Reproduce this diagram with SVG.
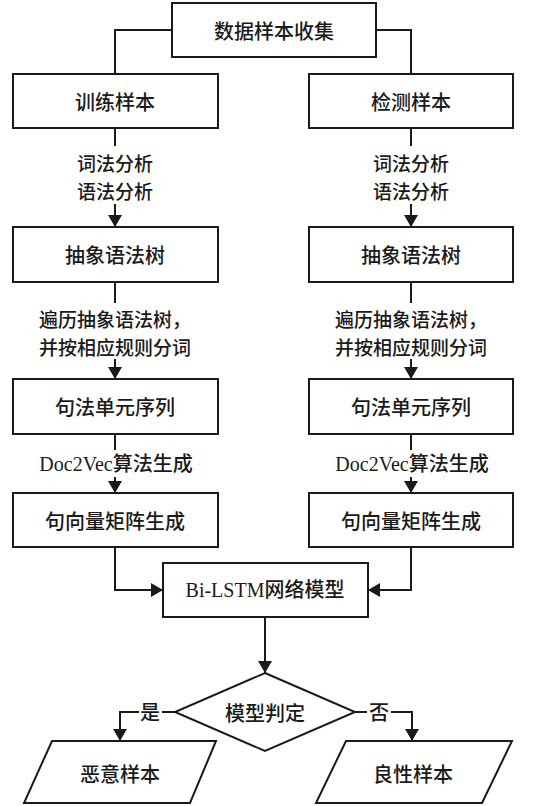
<svg xmlns="http://www.w3.org/2000/svg" width="540" height="806" viewBox="0 0 540 806">
<defs>
<style>
.box{fill:#fff;stroke:#1a1a1a;stroke-width:2}
.ln{fill:none;stroke:#1a1a1a;stroke-width:2}
.t{font-family:"Noto Sans CJK SC","Liberation Sans",sans-serif;font-size:20px;font-weight:500;fill:#1a1a1a;text-anchor:middle;dominant-baseline:central}
.m{font-size:19px}
.s{font-family:"Liberation Serif","Noto Sans CJK SC",serif;font-size:20px;font-weight:500;fill:#1a1a1a;text-anchor:middle;dominant-baseline:central}
</style>
<marker id="ah" markerUnits="userSpaceOnUse" markerWidth="12" markerHeight="14" viewBox="0 0 12 14" refX="12" refY="7" orient="auto">
<path d="M0,0 L12,7 L0,14 Z" fill="#1a1a1a"/>
</marker>
</defs>
<rect width="540" height="806" fill="#fff"/>
<g id="connectors">
<path class="ln" d="M172,30 H115 V74"/>
<path class="ln" d="M376,30 H411 V74"/>
<path class="ln" d="M115,128 V146"/>
<path class="ln" d="M411,128 V146"/>
<path class="ln" d="M115,204 V227" marker-end="url(#ah)"/>
<path class="ln" d="M411,204 V227" marker-end="url(#ah)"/>
<path class="ln" d="M115,282 V303"/>
<path class="ln" d="M411,282 V303"/>
<path class="ln" d="M115,359 V379" marker-end="url(#ah)"/>
<path class="ln" d="M411,359 V379" marker-end="url(#ah)"/>
<path class="ln" d="M115,434 V450"/>
<path class="ln" d="M411,434 V450"/>
<path class="ln" d="M115,477 V493" marker-end="url(#ah)"/>
<path class="ln" d="M411,477 V493" marker-end="url(#ah)"/>
<path class="ln" d="M115,547 V590 H163" marker-end="url(#ah)"/>
<path class="ln" d="M411,547 V590 H368" marker-end="url(#ah)"/>
<path class="ln" d="M265,617 V673" marker-end="url(#ah)"/>
<path class="ln" d="M175,712 H162"/>
<path class="ln" d="M139,712 H120 V741" marker-end="url(#ah)"/>
<path class="ln" d="M355,712 H367"/>
<path class="ln" d="M391,712 H412 V741" marker-end="url(#ah)"/>
<text class="t" x="150" y="711">是</text>
<text class="t" x="379" y="711">否</text>
<text class="t m" x="115" y="162">词法分析<tspan x="115" dy="28">语法分析</tspan></text>
<text class="t m" x="411" y="162">词法分析<tspan x="411" dy="28">语法分析</tspan></text>
<text class="t m" x="115" y="318">遍历抽象语法树，<tspan x="115" dy="28">并按相应规则分词</tspan></text>
<text class="t m" x="411" y="318">遍历抽象语法树，<tspan x="411" dy="28">并按相应规则分词</tspan></text>
<text class="s" x="116" y="464">Doc2Vec算法生成</text>
<text class="s" x="412" y="464">Doc2Vec算法生成</text>
</g>
<g id="collect"><rect class="box" x="172" y="3" width="204" height="54"/><text class="t" x="274" y="30">数据样本收集</text></g>
<g id="train"><rect class="box" x="13" y="74" width="205" height="54"/><text class="t" x="115" y="101">训练样本</text></g>
<g id="detect"><rect class="box" x="309" y="74" width="204" height="54"/><text class="t" x="411" y="101">检测样本</text></g>
<g id="ast-l"><rect class="box" x="13" y="227" width="205" height="55"/><text class="t" x="115" y="254">抽象语法树</text></g>
<g id="ast-r"><rect class="box" x="309" y="227" width="204" height="55"/><text class="t" x="411" y="254">抽象语法树</text></g>
<g id="seq-l"><rect class="box" x="13" y="379" width="205" height="55"/><text class="t" x="115" y="406">句法单元序列</text></g>
<g id="seq-r"><rect class="box" x="309" y="379" width="204" height="55"/><text class="t" x="411" y="406">句法单元序列</text></g>
<g id="vec-l"><rect class="box" x="13" y="493" width="205" height="54"/><text class="t" x="115" y="520">句向量矩阵生成</text></g>
<g id="vec-r"><rect class="box" x="309" y="493" width="204" height="54"/><text class="t" x="411" y="520">句向量矩阵生成</text></g>
<g id="bilstm"><rect class="box" x="163" y="563" width="205" height="54"/><text class="s" x="265" y="590">Bi-LSTM网络模型</text></g>
<g id="judge"><polygon class="box" points="265,673 355,712 265,751 175,712"/><text class="t" x="265" y="712">模型判定</text></g>
<g id="malicious"><polygon class="box" points="52,741 216,741 190,803 24,803"/><text class="t" x="120" y="773">恶意样本</text></g>
<g id="benign"><polygon class="box" points="346,741 512,741 482,803 316,803"/><text class="t" x="413" y="773">良性样本</text></g>
</svg>
